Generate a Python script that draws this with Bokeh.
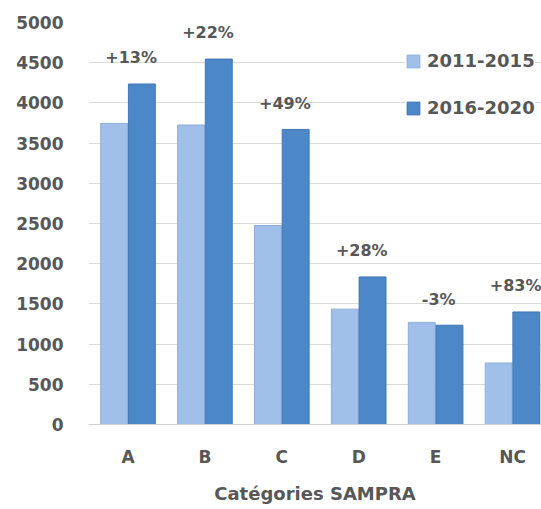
from bokeh.plotting import figure
from bokeh.models import ColumnDataSource, Range1d, FixedTicker, Legend, LegendItem
from bokeh.embed import file_html
from bokeh.resources import INLINE

categories = ["A", "B", "C", "D", "E", "NC"]
series_names = ["2011-2015", "2016-2020"]
values_2011_2015 = [3745, 3725, 2475, 1435, 1270, 765]
values_2016_2020 = [4235, 4545, 3670, 1835, 1235, 1400]
pct_labels = ["+13%", "+22%", "+49%", "+28%", "-3%", "+83%"]
y_ticks = [0, 500, 1000, 1500, 2000, 2500, 3000, 3500, 4000, 4500, 5000]

FONT = "DejaVu Sans"
TEXT_COL = "#575757"
LIGHT = "#a0bfe9"
DARK = "#4c87c7"

idx = list(range(len(categories)))
src = ColumnDataSource(dict(
    x1=[i - 0.18 for i in idx],
    x2=[i + 0.18 for i in idx],
    v1=values_2011_2015,
    v2=values_2016_2020,
    lx=[i + 0.04 for i in idx],
    ly=[v + 325 for v in values_2016_2020],
    lab=pct_labels,
))

p = figure(frame_width=453, frame_height=402,
           min_border_left=88, min_border_right=0, min_border_top=22, min_border_bottom=85,
           x_range=Range1d(-0.514, 5.377), y_range=Range1d(0, 5000),
           output_backend="svg", toolbar_location=None, tools="")
p.outline_line_color = None
p.background_fill_color = "white"
p.border_fill_color = "white"

r1 = p.vbar(x="x1", top="v1", width=0.35, source=src, fill_color=LIGHT, line_color="#8eadda", line_width=1)
r2 = p.vbar(x="x2", top="v2", width=0.35, source=src, fill_color=DARK, line_color="#3f76b4", line_width=1)

p.text(x="lx", y="ly", text="lab", source=src, text_align="center", text_baseline="middle",
       text_font={"value": FONT}, text_font_size="16px", text_font_style="bold",
       text_color=TEXT_COL)

# axes
p.yaxis.ticker = FixedTicker(ticks=y_ticks)
p.yaxis.axis_line_color = None
p.yaxis.major_tick_line_color = None
p.yaxis.minor_tick_line_color = None
p.yaxis.major_tick_out = 0
p.yaxis.major_tick_in = 0
p.yaxis.minor_tick_out = 0
p.yaxis.major_label_standoff = 25
p.yaxis.major_label_text_font = FONT
p.yaxis.major_label_text_font_size = "17px"
p.yaxis.major_label_text_font_style = "bold"
p.yaxis.major_label_text_color = TEXT_COL

p.xaxis.ticker = FixedTicker(ticks=idx)
p.xaxis.major_label_overrides = {i: c for i, c in zip(idx, categories)}
p.xaxis.axis_line_color = "#d0d0d0"
p.xaxis.major_tick_line_color = None
p.xaxis.minor_tick_line_color = None
p.xaxis.major_tick_out = 0
p.xaxis.major_tick_in = 0
p.xaxis.minor_tick_out = 0
p.xaxis.major_label_standoff = 22
p.xaxis.major_label_text_font = FONT
p.xaxis.major_label_text_font_size = "17px"
p.xaxis.major_label_text_font_style = "bold"
p.xaxis.major_label_text_color = TEXT_COL
p.xaxis.axis_label = "Catégories SAMPRA"
p.xaxis.axis_label_text_font = FONT
p.xaxis.axis_label_text_font_size = "18px"
p.xaxis.axis_label_text_font_style = "bold"
p.xaxis.axis_label_text_color = TEXT_COL
p.xaxis.axis_label_standoff = 13

p.xgrid.grid_line_color = None
p.ygrid.grid_line_color = "#d9d9d9"
p.ygrid.grid_line_width = 1

legend = Legend(items=[LegendItem(label=series_names[0], renderers=[r1]),
                       LegendItem(label=series_names[1], renderers=[r2])],
                location=(317, 306), orientation="vertical")
legend.background_fill_color = "white"
legend.background_fill_alpha = 1.0
legend.border_line_color = None
legend.padding = 0
legend.margin = 0
legend.spacing = 26
legend.glyph_width = 16
legend.glyph_height = 16
legend.label_standoff = 6
legend.label_text_font = FONT
legend.label_text_font_size = "18px"
legend.label_text_font_style = "bold"
legend.label_text_color = TEXT_COL
p.add_layout(legend, "center")

open("out.html", "w").write(file_html(p, INLINE))
